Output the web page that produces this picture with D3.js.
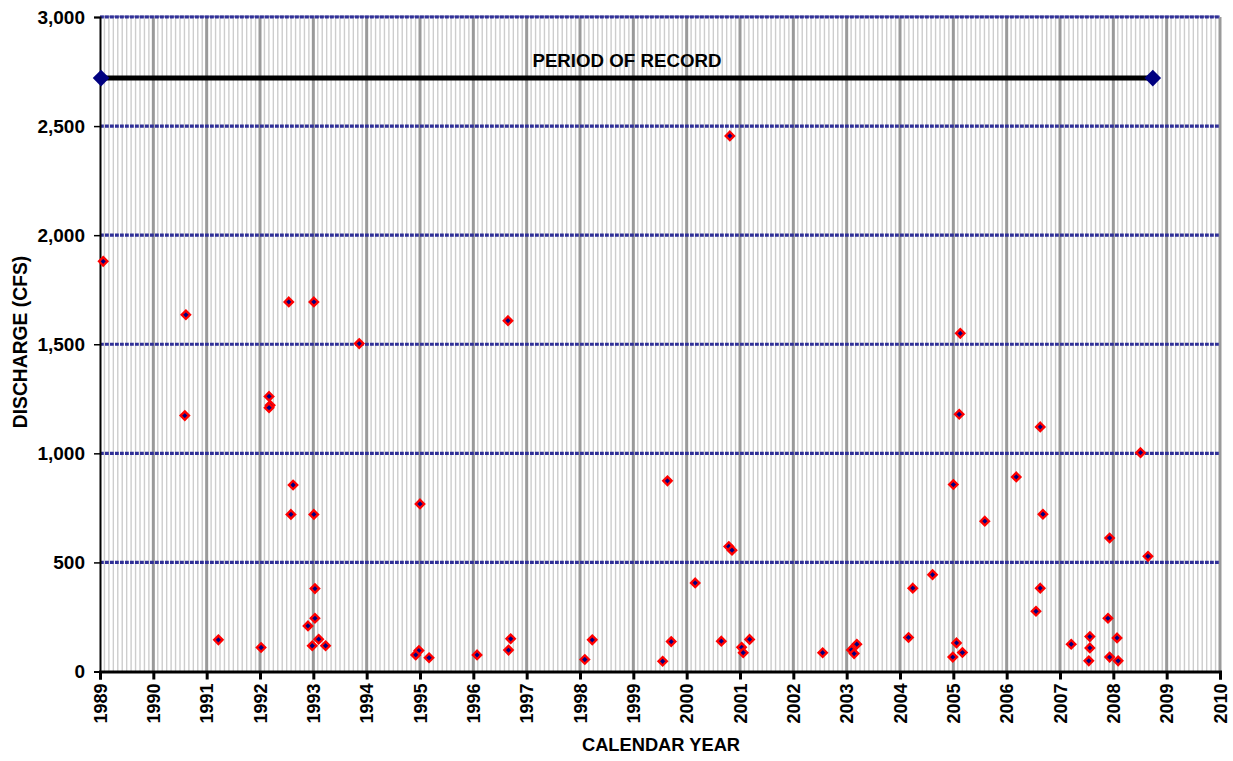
<!DOCTYPE html>
<html><head><meta charset="utf-8">
<script src="https://cdn.jsdelivr.net/npm/d3@7"></script>
<style>body{margin:0;background:#fff}svg{display:block;font-family:"Liberation Sans",Arial,sans-serif}</style>
</head><body>
<script>
// Data (decimal calendar year, discharge in CFS)
const eventYears = [1989.06,1990.61,1990.59,1991.22,1992.02,1992.17,1992.19,1992.17,1992.54,1993.01,1993.86,1992.62,1992.58,1993.01,1993.03,1992.90,1993.03,1992.98,1993.10,1993.23,
  1995.00,1994.98,1994.92,1995.17,1996.07,1996.70,1996.66,1996.65,1998.09,1998.23,1999.55,1999.64,1999.71,2000.16,2000.65,2000.81,2000.79,2000.85,2001.03,2001.06,2001.18,
  2002.55,2003.09,2003.14,2003.19,2004.16,2004.24,2004.61,2005.00,2004.99,2005.06,2005.17,2005.13,2005.11,2005.59,2006.18,2006.55,2006.63,2006.63,2006.68,
  2007.21,2007.56,2007.56,2007.54,2007.90,2007.93,2007.93,2008.07,2008.09,2008.51,2008.65];
const eventDischarge = [1880,1635,1173,145,110,1261,1220,1209,1694,1694,1503,855,720,720,380,209,244,118,148,118,
  768,96,76,63,76,150,98,1608,55,145,47,874,137,406,139,2455,573,556,111,86,147,
  86,99,82,125,156,382,444,857,66,131,87,1550,1179,689,892,276,382,1121,721,
  125,160,108,49,244,612,66,154,49,1003,528];
const periodYears = [1989.02, 2008.74];
const periodValue = 2720;
const periodLabel = "PERIOD OF RECORD";
const yTicks = [0,500,1000,1500,2000,2500,3000];
const xTicks = d3.range(1989, 2011);
const xTitle = "CALENDAR YEAR";
const yTitle = "DISCHARGE (CFS)";

const W = 1233, H = 761;
const x = d3.scaleLinear().domain([1989, 2010]).range([100, 1220]);
const y = d3.scaleLinear().domain([0, 3000]).range([671.5, 17]);

const svg = d3.select("body").append("svg").attr("width", W).attr("height", H);
svg.append("rect").attr("width", W).attr("height", H).attr("fill", "#fff");

// minor monthly gridlines
const months = d3.range(1989*12, 2010*12).map(m => m/12).filter(v => Math.abs(v - Math.round(v)) > 1e-6);
svg.append("g").selectAll("line").data(months).join("line")
  .attr("x1", d => x(d)).attr("x2", d => x(d))
  .attr("y1", y(3000)).attr("y2", y(0))
  .attr("stroke", "#cdcdcd").attr("stroke-width", 1.4);
// major yearly gridlines
svg.append("g").selectAll("line").data(xTicks.slice(1)).join("line")
  .attr("x1", d => x(d)).attr("x2", d => x(d))
  .attr("y1", y(3000)).attr("y2", y(0))
  .attr("stroke", "#9a9a9a").attr("stroke-width", 3);
// horizontal gridlines
svg.append("line").attr("x1", x(1989)).attr("x2", x(2010)).attr("y1", y(3000)-0.5).attr("y2", y(3000)-0.5)
  .attr("stroke", "#8a8ac0").attr("stroke-width", 2);
svg.append("g").selectAll("line").data(yTicks.slice(1)).join("line")
  .attr("x1", x(1989)).attr("x2", x(2010))
  .attr("y1", d => y(d)).attr("y2", d => y(d))
  .attr("stroke", "#303098").attr("stroke-width", 3.2).attr("stroke-dasharray", "3.8,1.2");

// axes
const yAxis = d3.axisLeft(y).tickValues(yTicks).tickFormat(d3.format(",")).tickSize(6).tickPadding(9);
const gy = svg.append("g").attr("transform", `translate(${x(1989)},0)`).call(yAxis);
gy.select(".domain").attr("stroke", "#000").attr("stroke-width", 2);
gy.selectAll(".tick line").attr("stroke", "#000").attr("stroke-width", 1.5);
gy.selectAll(".tick text").attr("font-size", 19).attr("font-weight", "bold").attr("fill", "#000")
  .attr("font-family", "Liberation Sans, Arial, sans-serif");

const xAxis = d3.axisBottom(x).tickValues(xTicks).tickFormat(d3.format("d")).tickSize(8);
const gx = svg.append("g").attr("transform", `translate(0,${y(0)})`).call(xAxis);
gx.select(".domain").attr("stroke", "#000").attr("stroke-width", 3);
gx.selectAll(".tick line").attr("stroke", "#000").attr("stroke-width", 3);
gx.selectAll(".tick text").attr("font-size", 18).attr("font-weight", "bold").attr("fill", "#000")
  .attr("font-family", "Liberation Sans, Arial, sans-serif")
  .attr("text-anchor", "end").attr("dy", null).attr("y", 0)
  .attr("transform", "translate(6,12) rotate(-90)");

// titles
svg.append("text").attr("x", 661).attr("y", 751).attr("text-anchor", "middle")
  .attr("font-size", 18.3).attr("font-weight", "bold").text(xTitle);
svg.append("text").attr("transform", `translate(26.5,${342}) rotate(-90)`).attr("text-anchor", "middle")
  .attr("font-size", 19.3).attr("font-weight", "bold").text(yTitle);

// period of record
const diamond = r => `M0,${-r}L${r},0L0,${r}L${-r},0Z`;
svg.append("line").attr("x1", x(periodYears[0])).attr("x2", x(periodYears[1]))
  .attr("y1", y(periodValue)).attr("y2", y(periodValue)).attr("stroke", "#000").attr("stroke-width", 5);
svg.append("g").selectAll("path").data(periodYears).join("path")
  .attr("transform", d => `translate(${x(d)},${y(periodValue)})`)
  .attr("d", diamond(8.3)).attr("fill", "#000080");
svg.append("text").attr("x", (x(periodYears[0]) + x(periodYears[1]))/2).attr("y", y(periodValue) - 11)
  .attr("text-anchor", "middle").attr("font-size", 18.7).attr("font-weight", "bold").text(periodLabel);

// events
svg.append("g").selectAll("path").data(eventYears.map((d,i) => [d, eventDischarge[i]])).join("path")
  .attr("transform", d => `translate(${x(d[0])},${y(d[1])})`)
  .attr("d", diamond(4.2)).attr("fill", "#000080").attr("stroke", "#ff0000").attr("stroke-width", 2.3);
</script>
</body></html>
